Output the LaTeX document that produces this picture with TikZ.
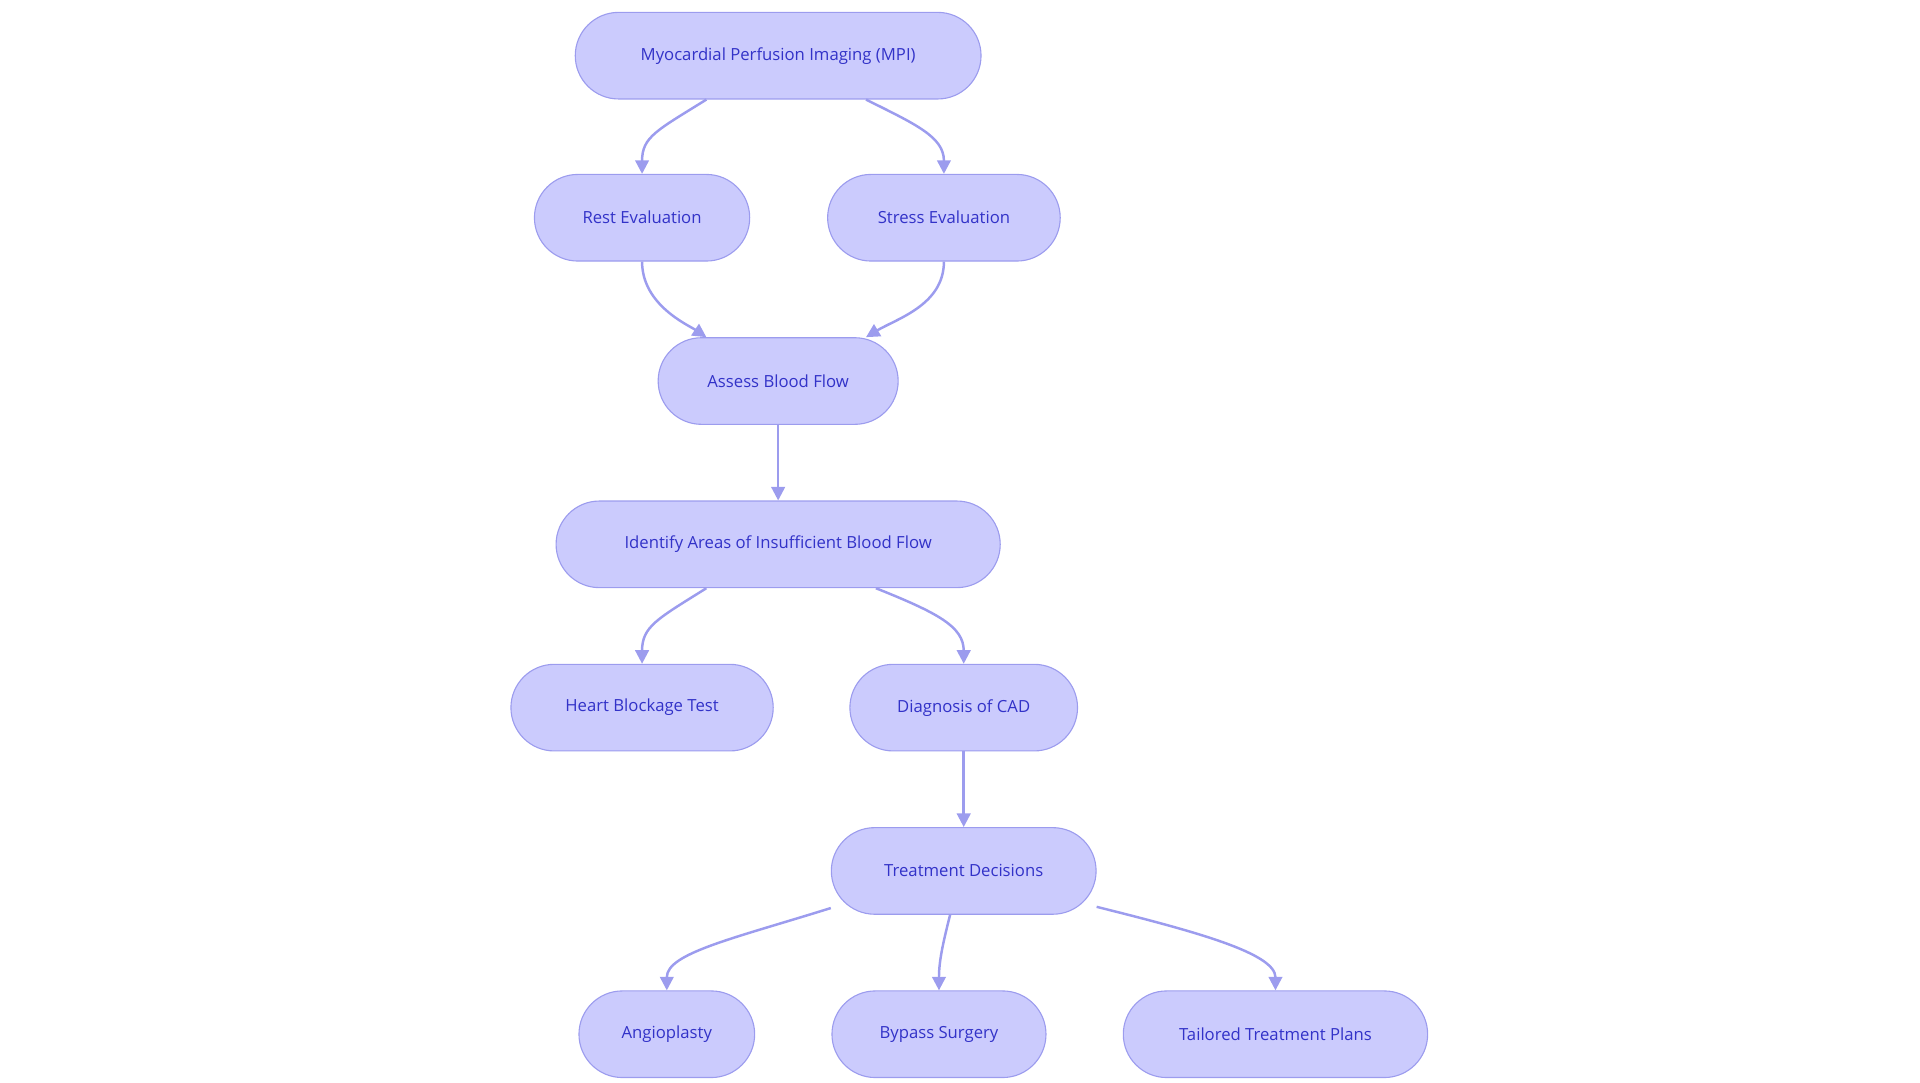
\documentclass[tikz,border=0pt]{standalone}
\usepackage{fontspec}
\setmainfont{Open Sans}
\usetikzlibrary{arrows.meta,calc}
\definecolor{nfill}{HTML}{CBCBFD}
\definecolor{ndraw}{HTML}{9C9CEE}
\definecolor{ntext}{HTML}{3232C8}
\definecolor{edge}{HTML}{9C9CEE}
\tikzset{
 box/.style={draw=ndraw,fill=nfill,rounded corners=35pt,minimum height=70pt,text=ntext,font=\fontsize{13.5pt}{16pt}\selectfont,line width=0.9pt,inner sep=0pt},
 link/.style={draw=edge,line width=2pt,-{Triangle[length=11pt,width=11pt]}}
}
\begin{document}
\begin{tikzpicture}[x=1pt,y=-1pt]
\useasboundingbox (0,0) rectangle (1552,875);
\node[box,minimum width=328pt] (mpi) at (629,45) {Myocardial Perfusion Imaging (MPI)};
\node[box,minimum width=174pt] (rest) at (519,176) {Rest Evaluation};
\node[box,minimum width=188pt] (stress) at (763,176) {Stress Evaluation};
\node[box,minimum width=194pt] (assess) at (629,308) {Assess Blood Flow};
\node[box,minimum width=359pt] (ident) at (629,440) {Identify Areas of Insufficient Blood Flow};
\node[box,minimum width=212pt] (heart) at (519,572) {Heart Blockage Test};
\node[box,minimum width=184pt] (diag) at (779,572) {Diagnosis of CAD};
\node[box,minimum width=214pt] (treat) at (779,704) {Treatment Decisions};
\node[box,minimum width=142pt] (angio) at (539,836) {Angioplasty};
\node[box,minimum width=173pt] (bypass) at (759,836) {Bypass Surgery};
\node[box,minimum width=246pt] (tail) at (1031,836) {Tailored Treatment Plans};

\draw[link] ($(mpi.south)+(-58,0)$) .. controls +(-40,25) and +(0,-30) .. (rest.north);
\draw[link] ($(mpi.south)+(71,0)$) .. controls +(40,20) and +(0,-30) .. (stress.north);
\draw[link] (rest.south) .. controls +(0,35) and +(-15,-10) .. ($(assess.north)+(-58,0)$);
\draw[link] (stress.south) .. controls +(0,35) and +(25,-15) .. ($(assess.north)+(71,0)$);
\draw[link] (assess) -- (ident);
\draw[link] ($(ident.south)+(-58,0)$) .. controls +(-40,25) and +(0,-30) .. (heart.north);
\draw[link] ($(ident.south)+(79,0)$) .. controls +(50,20) and +(0,-30) .. (diag.north);
\draw[link] (diag) -- (treat);
\draw[link] ($(treat.west)+(0,30)$) .. controls +(-80,25) and +(0,-30) .. (angio.north);
\draw[link] ($(treat.south)+(-11,0)$) .. controls +(-5,20) and +(0,-25) .. (bypass.north);
\draw[link] ($(treat.east)+(0,29)$) .. controls +(80,20) and +(0,-30) .. (tail.north);
\end{tikzpicture}
\end{document}
